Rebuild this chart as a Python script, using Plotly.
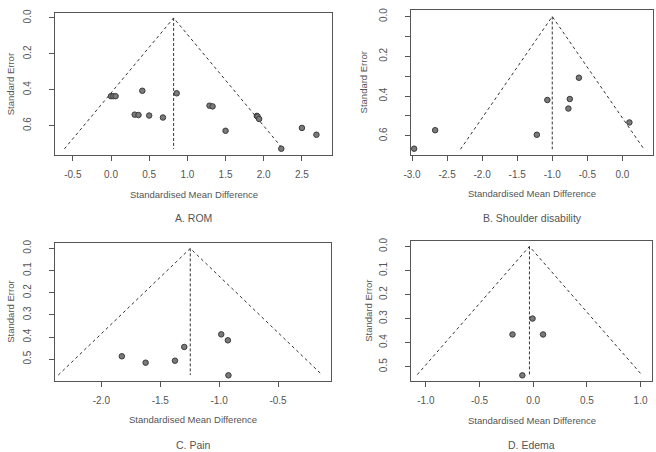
import plotly.graph_objects as go

W, H = 656, 452

# ---------------- data ----------------
rom_smd = [0.00, 0.03, 0.06, 0.41, 0.86, 0.31, 0.36, 0.50, 0.68, 1.29, 1.33, 1.50, 1.91, 1.92, 1.94, 2.23, 2.50, 2.69]
rom_se = [0.436, 0.436, 0.436, 0.406, 0.420, 0.539, 0.541, 0.544, 0.555, 0.489, 0.493, 0.629, 0.546, 0.550, 0.563, 0.729, 0.613, 0.651]
rom_center, rom_semax = 0.82, 0.73

sd_smd = [-2.97, -2.67, -1.22, -1.07, -0.75, -0.77, -0.62, 0.10]
sd_se = [0.665, 0.572, 0.595, 0.420, 0.415, 0.463, 0.308, 0.533]
sd_center, sd_semax = -1.0, 0.668

pain_smd = [-1.826, -1.624, -1.375, -1.296, -0.982, -0.926, -0.921]
pain_se = [0.487, 0.516, 0.507, 0.445, 0.388, 0.415, 0.573]
pain_center, pain_semax = -1.245, 0.572

edema_smd = [-0.193, -0.006, 0.092, -0.101]
edema_se = [0.366, 0.300, 0.366, 0.536]
edema_center, edema_semax = -0.035, 0.533

captions = ["A. ROM", "B. Shoulder disability", "C. Pain", "D. Edema"]
x_title = "Standardised Mean Difference"
y_title = "Standard Error"

rom_xticks = [-0.5, 0.0, 0.5, 1.0, 1.5, 2.0, 2.5]
rom_yticks = [0.0, 0.2, 0.4, 0.6]
sd_xticks = [-3.0, -2.5, -2.0, -1.5, -1.0, -0.5, 0.0]
sd_yticks = [0.0, 0.1, 0.2, 0.3, 0.4, 0.5, 0.6]
sd_ylabels = ["0.0", "", "0.2", "", "0.4", "", "0.6"]
pain_xticks = [-2.0, -1.5, -1.0, -0.5]
pain_yticks = [0.0, 0.1, 0.2, 0.3, 0.4, 0.5]
edema_xticks = [-1.0, -0.5, 0.0, 0.5, 1.0]
edema_yticks = [0.0, 0.1, 0.2, 0.3, 0.4, 0.5]

# ---------------- layout geometry (pixels) ----------------
panels = [
    dict(smd=rom_smd, se=rom_se, c=rom_center, m=rom_semax, box=(48, 328, 9, 152),
         xr=[-0.728, 2.894], yr=[0.762, -0.028], xt=rom_xticks, yt=rom_yticks, yl=None,
         ytitle_x=8.5, xtitle_y=192.5, cap_y=216),
    dict(smd=sd_smd, se=sd_se, c=sd_center, m=sd_semax, box=(408, 653, 6, 152),
         xr=[-3.014, 0.437], yr=[0.695, -0.033], xt=sd_xticks, yt=sd_yticks, yl=sd_ylabels,
         ytitle_x=365.5, xtitle_y=191.5, cap_y=216),
    dict(smd=pain_smd, se=pain_se, c=pain_center, m=pain_semax, box=(48, 327, 241, 380),
         xr=[-2.39, -0.05], yr=[0.597, -0.025], xt=pain_xticks, yt=pain_yticks, yl=None,
         ytitle_x=9, xtitle_y=419.5, cap_y=444.5),
    dict(smd=edema_smd, se=edema_se, c=edema_center, m=edema_semax, box=(408, 652, 239, 380),
         xr=[-1.138, 1.107], yr=[0.558, -0.023], xt=edema_xticks, yt=edema_yticks, yl=None,
         ytitle_x=371.5, xtitle_y=420, cap_y=444.5),
]

TXT = "#555555"
LINE = "#555555"
FONT = "Liberation Sans, Arial, sans-serif"

fig = go.Figure()
annotations = []
layout = {}

for i, p in enumerate(panels):
    n = "" if i == 0 else str(i + 1)
    xa, ya = "x" + n, "y" + n
    x0, x1, y0, y1 = p["box"]
    c, m = p["c"], p["m"]
    z = 1.96
    # funnel
    fig.add_trace(go.Scatter(x=[c - z * m, c, c + z * m], y=[m, 0, m], mode="lines",
                             line=dict(color="#333333", width=1, dash="dot"),
                             xaxis=xa, yaxis=ya, showlegend=False, hoverinfo="skip"))
    fig.add_trace(go.Scatter(x=[c, c], y=[0, m], mode="lines",
                             line=dict(color="#333333", width=1, dash="3px,2px"),
                             xaxis=xa, yaxis=ya, showlegend=False, hoverinfo="skip"))
    fig.add_trace(go.Scatter(x=p["smd"], y=p["se"], mode="markers",
                             marker=dict(size=5.5, color="#7a7a7a", line=dict(color="#3a3a3a", width=1)),
                             xaxis=xa, yaxis=ya, showlegend=False))
    ax_common = dict(showline=True, mirror=True, linecolor=LINE, linewidth=1,
                     ticks="outside", ticklen=5, tickcolor=LINE, tickwidth=1,
                     showgrid=False, zeroline=False,
                     tickfont=dict(family=FONT, size=10, color=TXT))
    layout["xaxis" + n] = dict(ax_common, domain=[x0 / W, x1 / W], range=p["xr"],
                               tickvals=p["xt"], ticktext=[f"{v:.1f}" for v in p["xt"]],
                               anchor=ya, ticklabelstandoff=5)
    yl = p["yl"] if p["yl"] is not None else [f"{v:.1f}" for v in p["yt"]]
    layout["yaxis" + n] = dict(ax_common, domain=[1 - y1 / H, 1 - y0 / H], range=p["yr"],
                               tickvals=p["yt"], ticktext=yl, tickangle=-90,
                               anchor=xa, ticklabelstandoff=14)
    cx = (x0 + x1) / 2 / W
    annotations.append(dict(text=x_title, x=cx, y=1 - p["xtitle_y"] / H, xref="paper", yref="paper",
                            showarrow=False, xanchor="center", yanchor="middle",
                            font=dict(family=FONT, size=9.5, color=TXT)))
    annotations.append(dict(text=captions[i], x=cx, y=1 - p["cap_y"] / H, xref="paper", yref="paper",
                            showarrow=False, xanchor="center", yanchor="middle",
                            font=dict(family=FONT, size=10.5, color=TXT)))
    annotations.append(dict(text=y_title, x=(p["ytitle_x"] - 6) / W, y=1 - (y0 + y1) / 2 / H,
                            xref="paper", yref="paper", showarrow=False, textangle=-90,
                            xanchor="center", yanchor="middle",
                            font=dict(family=FONT, size=9.5, color=TXT)))

fig.update_layout(width=W, height=H, margin=dict(l=0, r=0, t=0, b=0),
                  paper_bgcolor="white", plot_bgcolor="white",
                  annotations=annotations, **layout)

fig.write_html("out.html")
